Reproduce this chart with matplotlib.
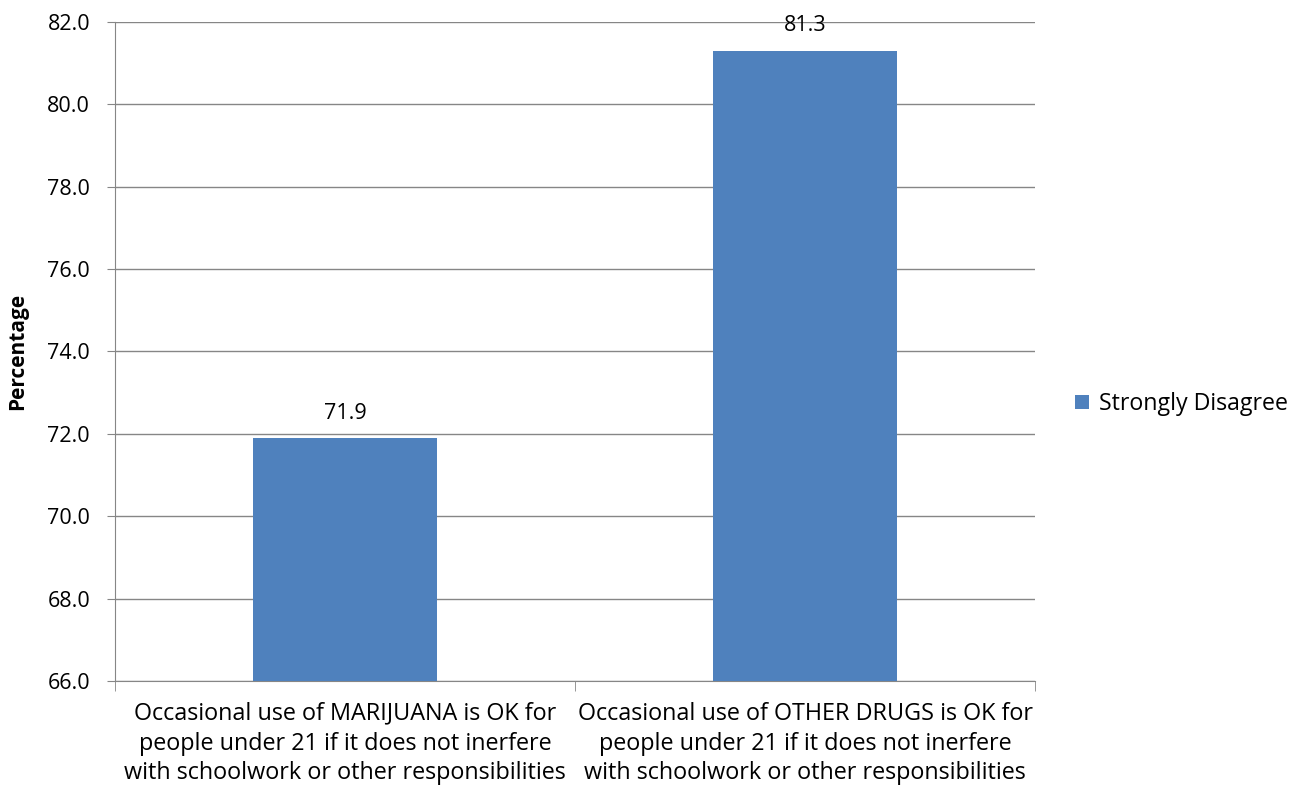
import numpy as np
import matplotlib.pyplot as plt

plt.rcParams['font.family'] = ['Open Sans', 'DejaVu Sans']

categories = ['Occasional use of MARIJUANA is OK for\npeople under 21 if it does not inerfere\nwith schoolwork or other responsibilities',
              'Occasional use of OTHER DRUGS is OK for\npeople under 21 if it does not inerfere\nwith schoolwork or other responsibilities']
values = [71.9, 81.3]
series_name = 'Strongly Disagree'
yticks = np.arange(66, 82.1, 2)

fig = plt.figure(figsize=(12.91, 7.92), dpi=100)
ax = fig.add_axes([0.0891, 0.1402, 0.7126, 0.832])

x = np.arange(len(categories))
ax.bar(x, values, width=0.4, color='#4F81BD', label=series_name, zorder=3)
for xi, v in zip(x, values):
    ax.text(xi, v + 0.35, f'{v:.1f}', ha='center', va='bottom', fontsize=15.5)

ax.set_xlim(-0.5, 1.5)
ax.set_ylim(66, 82)
ax.set_yticks(yticks)
ax.set_yticklabels([f'{t:.1f}' for t in yticks], fontsize=15.5)
ax.set_xticks(x)
ax.set_xticklabels(categories, fontsize=16.8, linespacing=1.32)
ax.tick_params(axis='x', which='major', length=0, pad=15)
ax.set_xticks([-0.5, 0.5, 1.5], minor=True)
ax.tick_params(axis='x', which='minor', length=7, color='#868686')
ax.tick_params(axis='y', length=6, color='#868686', pad=12)
ax.grid(axis='y', color='#868686', linewidth=1, zorder=0)
for s in ['top', 'right']:
    ax.spines[s].set_visible(False)
ax.spines['left'].set_color('#868686')
ax.spines['bottom'].set_color('#868686')
ax.set_ylabel('Percentage', fontsize=15, fontweight='bold')
ax.yaxis.set_label_coords(-0.094, 0.5)

ax.legend(loc='center left', bbox_to_anchor=(1.044, 0.42), frameon=False,
          fontsize=16.7, handlelength=0.6, handleheight=0.6, handletextpad=0.4,
          borderpad=0, borderaxespad=0)

fig.savefig('out.png', dpi=100)
